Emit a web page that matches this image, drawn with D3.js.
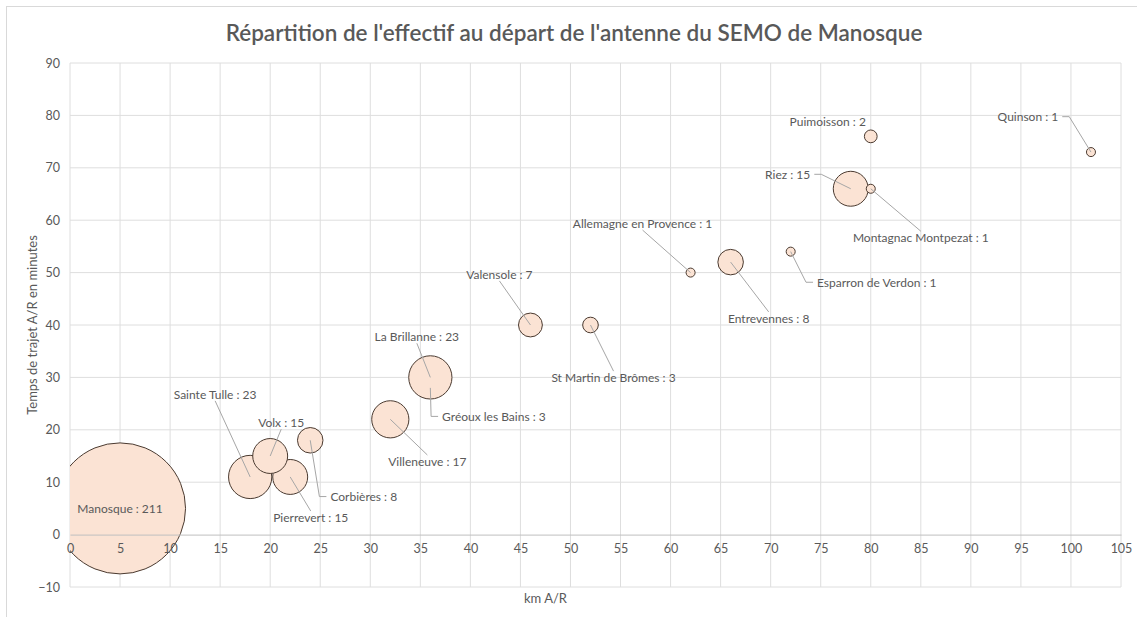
<!DOCTYPE html>
<html>
<head>
<meta charset="utf-8">
<script src="https://cdn.jsdelivr.net/npm/d3@7"></script>
<style>
  body { margin: 0; background: #fff; }
  text { font-family: Lato, "Open Sans", sans-serif; fill: #595959; }
</style>
</head>
<body>
<div class="chart"></div>
<script>
// data
const communes = ["Manosque", "Sainte Tulle", "Pierrevert", "Volx", "Corbières", "Villeneuve",
  "Gréoux les Bains", "La Brillanne", "Valensole", "St Martin de Brômes", "Allemagne en Provence",
  "Entrevennes", "Esparron de Verdon", "Riez", "Montagnac Montpezat", "Puimoisson", "Quinson"];
const km      = [5, 18, 22, 20, 24, 32, 36, 36, 46, 52, 62, 66, 72, 78, 80, 80, 102];
const minutes = [5, 11, 11, 15, 18, 22, 28, 30, 40, 40, 50, 52, 54, 66, 66, 76, 73];
const effectif = [211, 23, 15, 15, 8, 17, 3, 23, 7, 3, 1, 8, 1, 15, 1, 2, 1];

const xTicks = d3.range(0, 106, 5);
const yTicks = d3.range(-10, 91, 10);

// where each label sits (in km / minutes), as placed by hand in the original
const labelKm  = [5, 14.5, 24.05, 21.1, 29.35, 35.7, 42.35, 34.65, 42.9, 54.3, 57.2, 69.8, 80.6, 71.7, 85.0, 75.7, 95.7];
const labelMin = [5, 26.7, 3.2, 21.3, 7.2, 13.9, 22.5, 37.7, 49.6, 29.9, 59.3, 41.2, 48.1, 68.7, 56.6, 78.7, 79.7];

const data = communes.map((c, i) => ({
  name: c, km: km[i], min: minutes[i], n: effectif[i], lx: labelKm[i], ly: labelMin[i]
}));

let margin = { top: 63, right: 16, bottom: 30, left: 70 },
    W = 1137, H = 617,
    width = 1051,
    height = 524;

let root = d3.select(".chart").append("svg")
    .attr("width", W)
    .attr("height", H);

// chart frame
root.append("rect")
    .attr("x", 6.5).attr("y", 6.5)
    .attr("width", W + 10).attr("height", H + 10)
    .attr("fill", "none")
    .attr("stroke", "#d9d9d9");

root.append("text")
    .attr("x", 574).attr("y", 41)
    .attr("text-anchor", "middle")
    .attr("font-size", 22.5)
    .attr("font-weight", 600)
    .text("Répartition de l'effectif au départ de l'antenne du SEMO de Manosque");

let svg = root.append("g")
    .attr("transform", `translate(${margin.left},${margin.top})`);

let xScale = d3.scaleLinear().domain([0, 105]).range([0, width]);
let yScale = d3.scaleLinear().domain([-10, 90]).range([height, 0]);
// Excel: largest bubble = 25% of the smaller plot side
let rScale = d3.scaleSqrt().domain([0, d3.max(effectif)]).range([0, Math.min(width, height) * 0.25 / 2]);

svg.append("clipPath").attr("id", "plot")
  .append("rect").attr("width", width).attr("height", height);

//=== grid ===
svg.append("g")
    .selectAll("line.v")
    .data(xTicks)
    .join("line")
    .attr("x1", d => xScale(d)).attr("x2", d => xScale(d))
    .attr("y1", 0).attr("y2", height)
    .attr("stroke", "#dedede");

svg.append("g")
    .selectAll("line.h")
    .data(yTicks.filter(d => d !== 0))
    .join("line")
    .attr("x1", 0).attr("x2", width)
    .attr("y1", d => yScale(d)).attr("y2", d => yScale(d))
    .attr("stroke", "#dedede");

// x axis crosses at 0
let xAxis = d3.axisBottom(xScale).tickValues(xTicks).tickSize(0).tickPadding(10);
let gx = svg.append("g")
    .attr("transform", `translate(0,${yScale(0)})`)
    .call(xAxis);
gx.select(".domain").attr("stroke", "#bfbfbf");

let yAxis = d3.axisLeft(yScale).tickValues(yTicks).tickSize(0).tickPadding(10);
let gy = svg.append("g").call(yAxis);
gy.select(".domain").remove();

//=== bubbles ===
svg.append("g")
    .attr("clip-path", "url(#plot)")
    .selectAll("circle")
    .data(data)
    .join("circle")
    .attr("cx", d => xScale(d.km))
    .attr("cy", d => yScale(d.min))
    .attr("r", d => rScale(d.n))
    .attr("fill", "#fbe3d4")
    .attr("stroke", "#4a3a30")
    .attr("stroke-width", 1);

// tick labels drawn over the bubbles
gx.raise();
gx.selectAll(".tick text").attr("font-size", 12.5).attr("fill", "#595959").style("font-family", "Lato");
gx.select(".domain").lower();
gy.selectAll(".tick text").attr("font-size", 12.5).attr("fill", "#595959").style("font-family", "Lato");

//=== labels + leader lines ===
let leaders = svg.append("g");
let labels = svg.append("g")
    .selectAll("text")
    .data(data)
    .join("text")
    .attr("x", d => xScale(d.lx))
    .attr("y", d => yScale(d.ly))
    .attr("dy", "0.35em")
    .attr("text-anchor", "middle")
    .attr("font-size", 12)
    .text(d => `${d.name} : ${d.n}`);

labels.each(function(d) {
  const b = this.getBBox();
  const cx = xScale(d.km), cy = yScale(d.min);
  const left = b.x, right = b.x + b.width, my = b.y + b.height / 2;
  let pts;
  if (cx < left) pts = [[cx, cy], [left - 11, my], [left - 4, my]];
  else if (cx > right) pts = [[cx, cy], [right + 11, my], [right + 4, my]];
  else pts = [[cx, cy], [(left + right) / 2, cy < b.y ? b.y + 1 : b.y + b.height - 1]];
  const end = pts[pts.length - 1];
  if (Math.hypot(end[0] - cx, end[1] - cy) < 22) return;
  leaders.append("path")
      .attr("d", d3.line()(pts))
      .attr("fill", "none")
      .attr("stroke", "#a6a6a6")
      .attr("stroke-width", 1);
});

//=== axis titles ===
root.append("text")
    .attr("x", margin.left + xScale(47.5)).attr("y", 603)
    .attr("text-anchor", "middle")
    .attr("font-size", 13)
    .text("km A/R");

root.append("text")
    .attr("transform", `translate(37,${margin.top + yScale(40)}) rotate(-90)`)
    .attr("text-anchor", "middle")
    .attr("font-size", 13)
    .text("Temps de trajet A/R en minutes");
</script>
</body>
</html>
